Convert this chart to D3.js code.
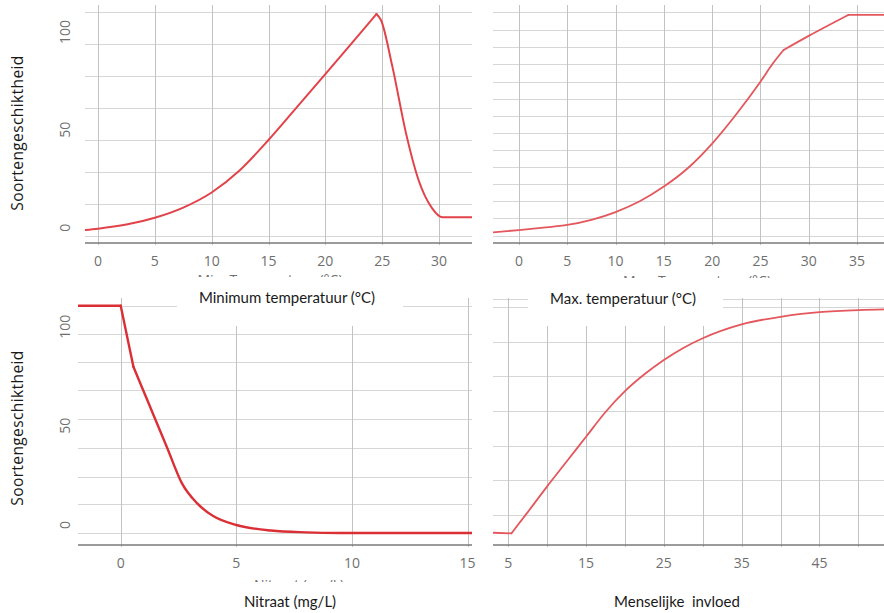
<!DOCTYPE html>
<html>
<head>
<meta charset="utf-8">
<script src="https://cdn.jsdelivr.net/npm/d3@7"></script>
<style>
  html, body { margin: 0; padding: 0; background: #fff; }
  svg { display: block; }
  .grid line { stroke: #d6d6d6; stroke-width: 1; }
  .tick-label { font-family: "Open Sans", sans-serif; font-size: 14px; fill: #6f6f6f; }
  .title { font-family: Lato, "Open Sans", sans-serif; font-size: 15px; fill: #1a1a1a; white-space: pre; }
  .ylabel { font-family: "Open Sans", sans-serif; font-size: 15.5px; letter-spacing: 0.4px; fill: #1a1a1a; }
</style>
</head>
<body>
<svg id="chart" width="884" height="613"></svg>
<script>
// --- data ---
const yTicks = [0, 50, 100];

const minTempX = [-1.2, 0, 2.5, 5, 7.5, 10, 12.5, 15, 17.5, 20, 22.5, 24.5, 24.9, 25.9, 27.1, 28.2, 29.4, 30.3, 33.5];
const minTempY = [-1.2, -0.5, 1.6, 5.1, 10.3, 18, 29.5, 44.8, 61.6, 78.5, 95.5, 109.2, 106, 82.3, 48.2, 24.4, 9.9, 5.3, 5.3];
const minTempTicks = [0, 5, 10, 15, 20, 25, 30];
const minTempGridY = [110.2, 93.9, 77.5, 61.2, 44.8, 28.5, 12.1, -4.2];

const maxTempX = [-2.8, 0, 2.5, 5, 7.5, 10, 12.5, 15, 17.5, 20, 22.5, 25, 26.3, 27.4, 30, 34.1, 38];
const maxTempY = [-2.4, -1.2, 0, 1.4, 4.0, 8.0, 13.5, 21, 30.5, 43, 58, 74.6, 84, 90.8, 98, 108.7, 108.7];
const maxTempTicks = [0, 5, 10, 15, 20, 25, 30, 35];
const maxTempGridY = [110.1, 101, 92.2, 83.5, 74.6, 65.9, 57.1, 48.2, 39.7, 30.9, 22.2, 13.5, 4.8, -4.1];

const nitraatX = [-2, 0, 0.55, 0.9, 1.4, 2.0, 2.65, 3.3, 4.0, 5.0, 6.5, 8, 9.5, 15.3];
const nitraatY = [110.6, 110.6, 79.8, 70, 56, 39.2, 21, 11, 4.5, 0, -2.8, -3.7, -4, -4];
const nitraatTicks = [0, 5, 10, 15];
const nitraatGridY = [110.6, 96.3, 82.3, 68.1, 53.3, 38.7, 24.4, 10.4, -3.9];

const invloedX = [3.0, 5.4, 7.5, 10, 12.5, 15, 17.5, 20, 22.5, 25, 27.5, 30, 35, 40, 45, 50, 55.5];
const invloedY = [-3.9, -4.2, 6.5, 19.5, 32, 44.5, 57, 67.5, 76, 83.2, 89.3, 94.2, 101.2, 105, 107.3, 108.4, 108.9];
const invloedGridX = [5, 10, 15, 20, 25, 30, 35, 40, 45, 50];
const invloedTicks = [5, 15, 25, 35, 45];
const invloedGridY = [113.8, 109.9, 92.4, 74.9, 57.5, 40, 22.5, 5.0];

const yLabel = 'Soortengeschiktheid';

const svg = d3.select('#chart');

// panel layout (pixels); breaks = point indices where the curve has a corner
const panels = [
  { id: 'p1', xs: minTempX, ys: minTempY, ticks: minTempTicks, gridX: minTempTicks, gridY: minTempGridY,
    xDom: [0, 30], xRng: [98, 439], yRng: [227.7, 32], left: 85, right: 472, top: 5, axisY: 243,
    yTickLabels: true, stroke: '#e2434a', width: 2, breaks: [11],
    ghost: 'Min. Temperatuur (°C)', ghostX: 270, ghostY: 273 },
  { id: 'p2', xs: maxTempX, ys: maxTempY, ticks: maxTempTicks, gridX: maxTempTicks, gridY: maxTempGridY,
    xDom: [0, 35], xRng: [519, 857], yRng: [227.7, 32], left: 493, right: 884, top: 5, axisY: 243,
    yTickLabels: false, stroke: '#e4575c', width: 1.8, breaks: [13, 15],
    ghost: 'Max. Temperatuur (°C)', ghostX: 697, ghostY: 274 },
  { id: 'p3', xs: nitraatX, ys: nitraatY, ticks: nitraatTicks, gridX: nitraatTicks, gridY: nitraatGridY,
    xDom: [0, 15], xRng: [120.7, 467.5], yRng: [525, 326.7], left: 78, right: 472, top: 298, axisY: 545,
    yTickLabels: true, stroke: '#db2f36', width: 2.4, breaks: [1, 2],
    ghost: 'Nitraat (mg/L)', ghostX: 299, ghostY: 578 },
  { id: 'p4', xs: invloedX, ys: invloedY, ticks: invloedTicks, gridX: invloedGridX, gridY: invloedGridY,
    xDom: [5, 50], xRng: [508.3, 858.3], yRng: [525, 326.7], left: 493, right: 884, top: 298, axisY: 545,
    yTickLabels: false, stroke: '#e4575c', width: 1.8, breaks: [1], ghost: null }
];

const defs = svg.append('defs');

panels.forEach(p => {
  const x = d3.scaleLinear().domain(p.xDom).range(p.xRng);
  const y = d3.scaleLinear().domain([0, 100]).range(p.yRng);

  defs.append('clipPath').attr('id', 'clip-' + p.id)
    .append('rect')
    .attr('x', p.left).attr('y', p.top - 2)
    .attr('width', p.right - p.left).attr('height', p.axisY - p.top + 4);

  const g = svg.append('g').attr('clip-path', `url(#clip-${p.id})`);

  // horizontal grid
  g.append('g').attr('class', 'grid')
    .selectAll('line').data(p.gridY).join('line')
    .attr('x1', p.left).attr('x2', p.right)
    .attr('y1', d => Math.round(y(d)) + 0.5).attr('y2', d => Math.round(y(d)) + 0.5);

  // vertical grid
  g.append('g')
    .selectAll('line').data(p.gridX).join('line')
    .attr('x1', d => Math.round(x(d)) + 0.5).attr('x2', d => Math.round(x(d)) + 0.5)
    .attr('y1', p.top).attr('y2', p.axisY + 3)
    .attr('stroke', '#c2c2c2');

  // x axis line
  g.append('line')
    .attr('x1', p.left).attr('x2', p.right)
    .attr('y1', p.axisY).attr('y2', p.axisY)
    .attr('stroke', '#7a7a7a').attr('stroke-width', 1.4);

  // curve, split at the corners so they stay sharp
  const pts = d3.zip(p.xs, p.ys);
  const cuts = [0, ...p.breaks, pts.length - 1];
  const segments = d3.pairs(cuts).map(([a, b]) => pts.slice(a, b + 1));
  const line = d3.line()
    .x(d => x(d[0]))
    .y(d => y(d[1]))
    .curve(d3.curveMonotoneX);
  g.append('g')
    .selectAll('path').data(segments).join('path')
    .attr('fill', 'none')
    .attr('stroke', p.stroke)
    .attr('stroke-width', p.width)
    .attr('stroke-linecap', 'round')
    .attr('d', line);

  // x tick labels
  svg.append('g')
    .selectAll('text').data(p.ticks).join('text')
    .attr('class', 'tick-label')
    .attr('x', d => x(d))
    .attr('y', p.axisY + 18)
    .attr('dy', '0.35em')
    .attr('text-anchor', 'middle')
    .text(d => d);

  // y tick labels (rotated)
  if (p.yTickLabels) {
    svg.append('g')
      .selectAll('text').data(yTicks).join('text')
      .attr('class', 'tick-label')
      .attr('transform', d => `translate(65,${y(d)}) rotate(-90)`)
      .attr('text-anchor', 'middle')
      .attr('dy', '0.35em')
      .text(d => d);
  }

  // half hidden original axis title
  if (p.ghost) {
    defs.append('clipPath').attr('id', 'ghost-' + p.id)
      .append('rect')
      .attr('x', p.left).attr('y', p.ghostY - 4)
      .attr('width', p.right - p.left).attr('height', 8);
    svg.append('text')
      .attr('clip-path', `url(#ghost-${p.id})`)
      .attr('class', 'tick-label')
      .attr('x', p.ghostX).attr('y', p.ghostY)
      .attr('dominant-baseline', 'hanging')
      .attr('text-anchor', 'middle')
      .attr('fill', '#8a8a8a')
      .text(p.ghost);
  }
});

// white boxes behind the top titles of the lower panels
[[177, 283, 226, 43], [528, 283, 195, 43]].forEach(b => {
  svg.append('rect')
    .attr('x', b[0]).attr('y', b[1]).attr('width', b[2]).attr('height', b[3])
    .attr('fill', '#fff');
});

// titles
const titles = [
  { t: 'Minimum temperatuur (°C)', x: 287, y: 298 },
  { t: 'Max. temperatuur (°C)', x: 623, y: 299 },
  { t: 'Nitraat (mg/L)', x: 290, y: 602 },
  { t: 'Menselijke  invloed', x: 677, y: 602 }
];
svg.append('g')
  .selectAll('text').data(titles).join('text')
  .attr('class', 'title')
  .attr('x', d => d.x).attr('y', d => d.y)
  .attr('text-anchor', 'middle')
  .attr('dy', '0.35em')
  .text(d => d.t);

// y axis titles
[133, 428].forEach(cy => {
  svg.append('text')
    .attr('class', 'ylabel')
    .attr('transform', `translate(18,${cy}) rotate(-90)`)
    .attr('text-anchor', 'middle')
    .attr('dy', '0.35em')
    .text(yLabel);
});
</script>
</body>
</html>
